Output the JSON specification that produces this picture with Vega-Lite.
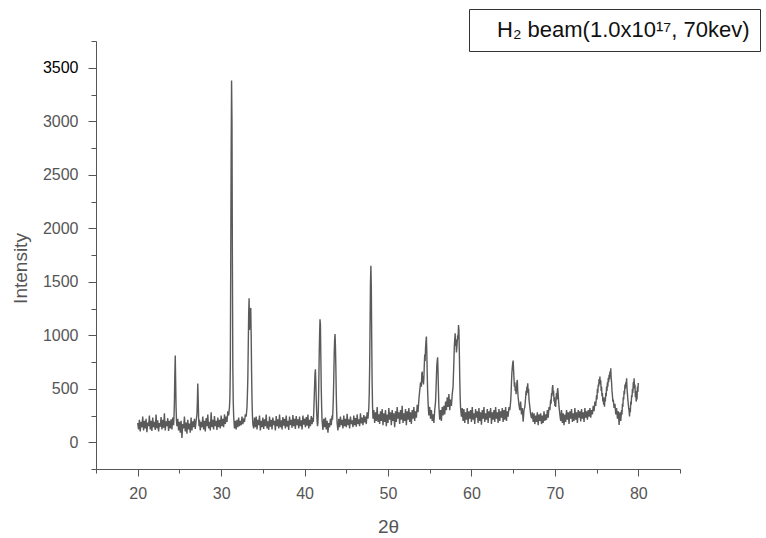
{
"$schema": "https://vega.github.io/schema/vega-lite/v6.json",
"width": 584, "height": 428,
"autosize": {"type": "none"},
"padding": {"left": 96, "top": 41, "right": 86, "bottom": 69},
"background": "white",
"config": {"view": {"stroke": null}, "font": "Liberation Sans"},
"data": {"values": [
{"x":20.0,"y":180},{"x":20.1,"y":120},{"x":20.2,"y":210},{"x":20.3,"y":100},{"x":20.4,"y":190},{"x":20.5,"y":140},{"x":20.6,"y":240},{"x":20.7,"y":110},{"x":20.8,"y":200},{"x":20.9,"y":130},
{"x":21.0,"y":220},{"x":21.1,"y":95},{"x":21.2,"y":185},{"x":21.3,"y":150},{"x":21.4,"y":250},{"x":21.5,"y":120},{"x":21.6,"y":200},{"x":21.7,"y":105},{"x":21.8,"y":230},{"x":21.9,"y":140},
{"x":22.0,"y":190},{"x":22.1,"y":115},{"x":22.2,"y":260},{"x":22.3,"y":130},{"x":22.4,"y":205},{"x":22.5,"y":100},{"x":22.6,"y":180},{"x":22.7,"y":145},{"x":22.8,"y":235},{"x":22.9,"y":120},
{"x":23.0,"y":210},{"x":23.1,"y":135},{"x":23.2,"y":270},{"x":23.3,"y":110},{"x":23.4,"y":195},{"x":23.5,"y":150},{"x":23.6,"y":225},{"x":23.7,"y":105},{"x":23.8,"y":200},{"x":23.9,"y":130},
{"x":24.0,"y":215},{"x":24.1,"y":120},{"x":24.2,"y":230},{"x":24.3,"y":160},{"x":24.35,"y":240},{"x":24.4,"y":380},{"x":24.45,"y":640},{"x":24.5,"y":810},{"x":24.55,"y":560},{"x":24.6,"y":320},{"x":24.65,"y":200},{"x":24.7,"y":150},
{"x":24.8,"y":220},{"x":24.9,"y":110},{"x":25.0,"y":190},{"x":25.1,"y":90},{"x":25.2,"y":200},{"x":25.3,"y":40},{"x":25.4,"y":170},{"x":25.5,"y":130},{"x":25.6,"y":240},{"x":25.7,"y":100},{"x":25.8,"y":185},{"x":25.9,"y":80},
{"x":26.0,"y":210},{"x":26.1,"y":120},{"x":26.2,"y":175},{"x":26.3,"y":90},{"x":26.4,"y":230},{"x":26.5,"y":110},{"x":26.6,"y":195},{"x":26.7,"y":140},{"x":26.8,"y":220},{"x":26.9,"y":125},
{"x":27.0,"y":200},{"x":27.1,"y":260},{"x":27.15,"y":380},{"x":27.2,"y":550},{"x":27.25,"y":400},{"x":27.3,"y":230},{"x":27.35,"y":150},{"x":27.4,"y":210},{"x":27.5,"y":110},{"x":27.6,"y":190},{"x":27.7,"y":140},{"x":27.8,"y":240},{"x":27.9,"y":120},
{"x":28.0,"y":200},{"x":28.1,"y":100},{"x":28.2,"y":225},{"x":28.3,"y":150},{"x":28.4,"y":260},{"x":28.5,"y":130},{"x":28.6,"y":190},{"x":28.7,"y":110},{"x":28.8,"y":280},{"x":28.9,"y":140},
{"x":29.0,"y":210},{"x":29.1,"y":120},{"x":29.2,"y":245},{"x":29.3,"y":150},{"x":29.4,"y":200},{"x":29.5,"y":115},{"x":29.6,"y":230},{"x":29.7,"y":140},{"x":29.8,"y":210},{"x":29.9,"y":130},
{"x":30.0,"y":250},{"x":30.1,"y":150},{"x":30.2,"y":220},{"x":30.3,"y":140},{"x":30.4,"y":260},{"x":30.5,"y":170},{"x":30.6,"y":240},{"x":30.7,"y":190},{"x":30.8,"y":290},{"x":30.9,"y":250},
{"x":31.0,"y":330},{"x":31.05,"y":420},{"x":31.1,"y":700},{"x":31.15,"y":1700},{"x":31.2,"y":2700},{"x":31.25,"y":3380},{"x":31.3,"y":3000},{"x":31.35,"y":1650},{"x":31.4,"y":700},{"x":31.45,"y":380},{"x":31.5,"y":250},{"x":31.55,"y":180},{"x":31.6,"y":130},{"x":31.7,"y":200},{"x":31.8,"y":120},{"x":31.9,"y":210},
{"x":32.0,"y":140},{"x":32.1,"y":230},{"x":32.2,"y":150},{"x":32.3,"y":200},{"x":32.4,"y":160},{"x":32.5,"y":240},{"x":32.6,"y":170},{"x":32.7,"y":210},{"x":32.8,"y":190},{"x":32.9,"y":260},
{"x":33.0,"y":240},{"x":33.1,"y":330},{"x":33.15,"y":450},{"x":33.2,"y":600},{"x":33.25,"y":900},{"x":33.3,"y":1200},{"x":33.35,"y":1346},{"x":33.4,"y":1050},{"x":33.45,"y":1150},{"x":33.5,"y":1230},{"x":33.55,"y":1255},{"x":33.6,"y":1000},{"x":33.65,"y":650},{"x":33.7,"y":400},{"x":33.75,"y":250},{"x":33.8,"y":170},{"x":33.9,"y":130},
{"x":34.0,"y":230},{"x":34.1,"y":140},{"x":34.2,"y":240},{"x":34.3,"y":120},{"x":34.4,"y":210},{"x":34.5,"y":160},{"x":34.6,"y":250},{"x":34.7,"y":110},{"x":34.8,"y":200},{"x":34.9,"y":140},
{"x":35.0,"y":230},{"x":35.1,"y":125},{"x":35.2,"y":215},{"x":35.3,"y":150},{"x":35.4,"y":260},{"x":35.5,"y":130},{"x":35.6,"y":195},{"x":35.7,"y":115},{"x":35.8,"y":240},{"x":35.9,"y":145},
{"x":36.0,"y":210},{"x":36.1,"y":120},{"x":36.2,"y":230},{"x":36.3,"y":160},{"x":36.4,"y":200},{"x":36.5,"y":110},{"x":36.6,"y":245},{"x":36.7,"y":150},{"x":36.8,"y":215},{"x":36.9,"y":130},
{"x":37.0,"y":260},{"x":37.1,"y":140},{"x":37.2,"y":205},{"x":37.3,"y":120},{"x":37.4,"y":235},{"x":37.5,"y":155},{"x":37.6,"y":220},{"x":37.7,"y":130},{"x":37.8,"y":250},{"x":37.9,"y":145},
{"x":38.0,"y":200},{"x":38.1,"y":115},{"x":38.2,"y":240},{"x":38.3,"y":160},{"x":38.4,"y":210},{"x":38.5,"y":135},{"x":38.6,"y":255},{"x":38.7,"y":150},{"x":38.8,"y":220},{"x":38.9,"y":125},
{"x":39.0,"y":245},{"x":39.1,"y":160},{"x":39.2,"y":215},{"x":39.3,"y":130},{"x":39.4,"y":240},{"x":39.5,"y":150},{"x":39.6,"y":205},{"x":39.7,"y":120},{"x":39.8,"y":250},{"x":39.9,"y":165},
{"x":40.0,"y":220},{"x":40.1,"y":140},{"x":40.2,"y":235},{"x":40.3,"y":155},{"x":40.4,"y":260},{"x":40.5,"y":130},{"x":40.6,"y":210},{"x":40.7,"y":150},{"x":40.8,"y":245},{"x":40.9,"y":170},
{"x":41.0,"y":230},{"x":41.05,"y":190},{"x":41.1,"y":280},{"x":41.15,"y":400},{"x":41.2,"y":520},{"x":41.25,"y":640},{"x":41.3,"y":682},{"x":41.35,"y":560},{"x":41.4,"y":400},{"x":41.45,"y":280},{"x":41.5,"y":200},{"x":41.55,"y":150},{"x":41.6,"y":180},{"x":41.65,"y":300},{"x":41.7,"y":520},{"x":41.75,"y":800},{"x":41.8,"y":1000},{"x":41.85,"y":1150},{"x":41.9,"y":1100},{"x":41.95,"y":800},{"x":42.0,"y":500},{"x":42.05,"y":320},{"x":42.1,"y":200},{"x":42.2,"y":115},{"x":42.3,"y":220},
{"x":42.4,"y":140},{"x":42.5,"y":230},{"x":42.6,"y":120},{"x":42.7,"y":200},{"x":42.8,"y":90},{"x":42.9,"y":180},{"x":43.0,"y":140},{"x":43.1,"y":220},{"x":43.2,"y":160},{"x":43.3,"y":250},{"x":43.35,"y":210},{"x":43.4,"y":300},{"x":43.45,"y":420},{"x":43.5,"y":600},{"x":43.55,"y":820},{"x":43.6,"y":950},{"x":43.65,"y":1012},{"x":43.7,"y":900},{"x":43.75,"y":700},{"x":43.8,"y":450},{"x":43.85,"y":280},{"x":43.9,"y":180},
{"x":44.0,"y":110},{"x":44.1,"y":220},{"x":44.2,"y":140},{"x":44.3,"y":240},{"x":44.4,"y":160},{"x":44.5,"y":210},{"x":44.6,"y":130},{"x":44.7,"y":250},{"x":44.8,"y":150},{"x":44.9,"y":220},
{"x":45.0,"y":140},{"x":45.1,"y":265},{"x":45.2,"y":160},{"x":45.3,"y":215},{"x":45.4,"y":130},{"x":45.5,"y":240},{"x":45.6,"y":170},{"x":45.7,"y":205},{"x":45.8,"y":140},{"x":45.9,"y":250},
{"x":46.0,"y":160},{"x":46.1,"y":225},{"x":46.2,"y":145},{"x":46.3,"y":260},{"x":46.4,"y":170},{"x":46.5,"y":215},{"x":46.6,"y":150},{"x":46.7,"y":270},{"x":46.8,"y":175},{"x":46.9,"y":230},
{"x":47.0,"y":160},{"x":47.1,"y":255},{"x":47.2,"y":185},{"x":47.3,"y":240},{"x":47.4,"y":170},{"x":47.5,"y":280},{"x":47.6,"y":220},{"x":47.7,"y":320},{"x":47.75,"y":450},{"x":47.8,"y":700},{"x":47.85,"y":1100},{"x":47.9,"y":1500},{"x":47.95,"y":1650},{"x":48.0,"y":1450},{"x":48.05,"y":950},{"x":48.1,"y":550},{"x":48.15,"y":330},{"x":48.2,"y":220},{"x":48.3,"y":300},{"x":48.4,"y":180},{"x":48.5,"y":280},{"x":48.6,"y":200},{"x":48.7,"y":330},{"x":48.8,"y":190},{"x":48.9,"y":260},
{"x":49.0,"y":170},{"x":49.1,"y":290},{"x":49.2,"y":200},{"x":49.3,"y":310},{"x":49.4,"y":160},{"x":49.5,"y":270},{"x":49.6,"y":190},{"x":49.7,"y":300},{"x":49.8,"y":150},{"x":49.9,"y":260},
{"x":50.0,"y":180},{"x":50.1,"y":320},{"x":50.2,"y":210},{"x":50.3,"y":280},{"x":50.4,"y":160},{"x":50.5,"y":300},{"x":50.6,"y":200},{"x":50.7,"y":270},{"x":50.8,"y":140},{"x":50.9,"y":290},
{"x":51.0,"y":190},{"x":51.1,"y":330},{"x":51.2,"y":220},{"x":51.3,"y":280},{"x":51.4,"y":170},{"x":51.5,"y":300},{"x":51.6,"y":210},{"x":51.7,"y":340},{"x":51.8,"y":180},{"x":51.9,"y":270},
{"x":52.0,"y":200},{"x":52.1,"y":310},{"x":52.2,"y":160},{"x":52.3,"y":290},{"x":52.4,"y":210},{"x":52.5,"y":320},{"x":52.6,"y":190},{"x":52.7,"y":280},{"x":52.8,"y":170},{"x":52.9,"y":300},
{"x":53.0,"y":220},{"x":53.1,"y":330},{"x":53.2,"y":200},{"x":53.3,"y":290},{"x":53.4,"y":230},{"x":53.5,"y":350},{"x":53.6,"y":280},{"x":53.7,"y":400},{"x":53.8,"y":480},{"x":53.9,"y":560},
{"x":54.0,"y":520},{"x":54.05,"y":640},{"x":54.1,"y":660},{"x":54.15,"y":560},{"x":54.2,"y":620},{"x":54.25,"y":540},{"x":54.3,"y":600},{"x":54.35,"y":720},{"x":54.4,"y":820},{"x":54.45,"y":760},{"x":54.5,"y":880},{"x":54.55,"y":940},{"x":54.6,"y":987},{"x":54.65,"y":850},{"x":54.7,"y":650},{"x":54.75,"y":480},{"x":54.8,"y":380},{"x":54.85,"y":300},{"x":54.9,"y":250},
{"x":55.0,"y":330},{"x":55.1,"y":220},{"x":55.2,"y":300},{"x":55.3,"y":200},{"x":55.4,"y":260},{"x":55.5,"y":180},{"x":55.6,"y":300},{"x":55.7,"y":380},{"x":55.75,"y":480},{"x":55.8,"y":600},{"x":55.85,"y":720},{"x":55.9,"y":760},{"x":55.95,"y":794},{"x":56.0,"y":650},{"x":56.05,"y":480},{"x":56.1,"y":330},{"x":56.2,"y":210},{"x":56.3,"y":300},{"x":56.4,"y":200},{"x":56.5,"y":330},{"x":56.6,"y":250},{"x":56.7,"y":340},{"x":56.8,"y":260},{"x":56.9,"y":380},
{"x":57.0,"y":300},{"x":57.1,"y":420},{"x":57.2,"y":330},{"x":57.3,"y":450},{"x":57.4,"y":300},{"x":57.5,"y":400},{"x":57.6,"y":340},{"x":57.7,"y":450},{"x":57.8,"y":520},{"x":57.85,"y":640},{"x":57.9,"y":760},{"x":57.95,"y":900},{"x":58.0,"y":960},{"x":58.05,"y":1019},{"x":58.1,"y":900},{"x":58.15,"y":960},{"x":58.2,"y":840},{"x":58.25,"y":880},{"x":58.3,"y":940},{"x":58.35,"y":1000},{"x":58.4,"y":960},{"x":58.45,"y":1096},{"x":58.5,"y":1050},{"x":58.55,"y":850},{"x":58.6,"y":600},{"x":58.65,"y":420},{"x":58.7,"y":320},{"x":58.8,"y":240},{"x":58.9,"y":320},
{"x":59.0,"y":200},{"x":59.1,"y":310},{"x":59.2,"y":180},{"x":59.3,"y":280},{"x":59.4,"y":210},{"x":59.5,"y":320},{"x":59.6,"y":170},{"x":59.7,"y":290},{"x":59.8,"y":220},{"x":59.9,"y":300},
{"x":60.0,"y":190},{"x":60.1,"y":330},{"x":60.2,"y":210},{"x":60.3,"y":270},{"x":60.4,"y":170},{"x":60.5,"y":310},{"x":60.6,"y":230},{"x":60.7,"y":290},{"x":60.8,"y":180},{"x":60.9,"y":320},
{"x":61.0,"y":200},{"x":61.1,"y":280},{"x":61.2,"y":165},{"x":61.3,"y":300},{"x":61.4,"y":220},{"x":61.5,"y":330},{"x":61.6,"y":190},{"x":61.7,"y":270},{"x":61.8,"y":210},{"x":61.9,"y":310},
{"x":62.0,"y":180},{"x":62.1,"y":290},{"x":62.2,"y":230},{"x":62.3,"y":320},{"x":62.4,"y":170},{"x":62.5,"y":280},{"x":62.6,"y":210},{"x":62.7,"y":300},{"x":62.8,"y":190},{"x":62.9,"y":330},
{"x":63.0,"y":220},{"x":63.1,"y":280},{"x":63.2,"y":180},{"x":63.3,"y":310},{"x":63.4,"y":200},{"x":63.5,"y":290},{"x":63.6,"y":230},{"x":63.7,"y":320},{"x":63.8,"y":190},{"x":63.9,"y":300},
{"x":64.0,"y":210},{"x":64.1,"y":330},{"x":64.2,"y":200},{"x":64.3,"y":290},{"x":64.4,"y":240},{"x":64.5,"y":330},{"x":64.6,"y":300},{"x":64.7,"y":380},{"x":64.75,"y":450},{"x":64.8,"y":560},{"x":64.85,"y":650},{"x":64.9,"y":700},{"x":64.95,"y":740},{"x":65.0,"y":763},{"x":65.05,"y":680},{"x":65.1,"y":600},{"x":65.15,"y":520},{"x":65.2,"y":560},{"x":65.25,"y":480},{"x":65.3,"y":520},{"x":65.35,"y":450},{"x":65.4,"y":500},{"x":65.45,"y":560},{"x":65.5,"y":582},{"x":65.55,"y":480},{"x":65.6,"y":420},{"x":65.7,"y":350},{"x":65.8,"y":300},{"x":65.9,"y":380},
{"x":66.0,"y":260},{"x":66.1,"y":320},{"x":66.2,"y":193},{"x":66.3,"y":300},{"x":66.4,"y":330},{"x":66.5,"y":420},{"x":66.55,"y":480},{"x":66.6,"y":440},{"x":66.65,"y":520},{"x":66.7,"y":500},{"x":66.75,"y":551},{"x":66.8,"y":460},{"x":66.85,"y":500},{"x":66.9,"y":400},{"x":67.0,"y":330},{"x":67.1,"y":260},{"x":67.2,"y":224},{"x":67.3,"y":280},
{"x":67.4,"y":190},{"x":67.5,"y":270},{"x":67.6,"y":170},{"x":67.7,"y":250},{"x":67.8,"y":190},{"x":67.9,"y":280},{"x":68.0,"y":160},{"x":68.1,"y":260},{"x":68.2,"y":200},{"x":68.3,"y":270},{"x":68.4,"y":170},{"x":68.5,"y":250},{"x":68.6,"y":180},{"x":68.7,"y":290},{"x":68.8,"y":200},{"x":68.9,"y":260},
{"x":69.0,"y":210},{"x":69.1,"y":300},{"x":69.2,"y":230},{"x":69.3,"y":330},{"x":69.4,"y":300},{"x":69.5,"y":400},{"x":69.55,"y":360},{"x":69.6,"y":460},{"x":69.65,"y":430},{"x":69.7,"y":510},{"x":69.75,"y":535},{"x":69.8,"y":450},{"x":69.85,"y":480},{"x":69.9,"y":380},{"x":69.95,"y":420},
{"x":70.0,"y":340},{"x":70.05,"y":380},{"x":70.1,"y":330},{"x":70.15,"y":420},{"x":70.2,"y":460},{"x":70.25,"y":400},{"x":70.3,"y":480},{"x":70.35,"y":505},{"x":70.4,"y":450},{"x":70.45,"y":380},{"x":70.5,"y":330},{"x":70.6,"y":260},{"x":70.7,"y":200},{"x":70.8,"y":300},{"x":70.9,"y":180},
{"x":71.0,"y":270},{"x":71.1,"y":160},{"x":71.2,"y":260},{"x":71.3,"y":190},{"x":71.4,"y":300},{"x":71.5,"y":210},{"x":71.6,"y":280},{"x":71.7,"y":170},{"x":71.8,"y":290},{"x":71.9,"y":220},
{"x":72.0,"y":310},{"x":72.1,"y":190},{"x":72.2,"y":270},{"x":72.3,"y":200},{"x":72.4,"y":320},{"x":72.5,"y":210},{"x":72.6,"y":280},{"x":72.7,"y":180},{"x":72.8,"y":300},{"x":72.9,"y":230},
{"x":73.0,"y":290},{"x":73.1,"y":195},{"x":73.2,"y":310},{"x":73.3,"y":220},{"x":73.4,"y":280},{"x":73.5,"y":190},{"x":73.6,"y":320},{"x":73.7,"y":230},{"x":73.8,"y":290},{"x":73.9,"y":210},
{"x":74.0,"y":300},{"x":74.1,"y":240},{"x":74.2,"y":320},{"x":74.3,"y":230},{"x":74.4,"y":300},{"x":74.5,"y":260},{"x":74.6,"y":340},{"x":74.7,"y":290},{"x":74.8,"y":380},{"x":74.9,"y":340},
{"x":75.0,"y":440},{"x":75.05,"y":400},{"x":75.1,"y":500},{"x":75.15,"y":460},{"x":75.2,"y":540},{"x":75.25,"y":520},{"x":75.3,"y":590},{"x":75.35,"y":560},{"x":75.4,"y":613},{"x":75.45,"y":540},{"x":75.5,"y":580},{"x":75.55,"y":480},{"x":75.6,"y":520},{"x":75.65,"y":430},{"x":75.7,"y":460},{"x":75.75,"y":380},{"x":75.8,"y":420},{"x":75.85,"y":350},{"x":75.9,"y":400},{"x":75.95,"y":333},
{"x":76.0,"y":420},{"x":76.05,"y":380},{"x":76.1,"y":460},{"x":76.15,"y":430},{"x":76.2,"y":520},{"x":76.25,"y":480},{"x":76.3,"y":560},{"x":76.35,"y":520},{"x":76.4,"y":600},{"x":76.45,"y":560},{"x":76.5,"y":630},{"x":76.55,"y":590},{"x":76.6,"y":660},{"x":76.65,"y":620},{"x":76.7,"y":692},{"x":76.75,"y":600},{"x":76.8,"y":560},{"x":76.85,"y":480},{"x":76.9,"y":440},{"x":76.95,"y":380},
{"x":77.0,"y":400},{"x":77.1,"y":320},{"x":77.2,"y":360},{"x":77.3,"y":260},{"x":77.4,"y":320},{"x":77.5,"y":220},{"x":77.6,"y":290},{"x":77.7,"y":162},{"x":77.8,"y":280},{"x":77.9,"y":200},
{"x":78.0,"y":300},{"x":78.05,"y":260},{"x":78.1,"y":360},{"x":78.15,"y":330},{"x":78.2,"y":420},{"x":78.25,"y":400},{"x":78.3,"y":480},{"x":78.35,"y":450},{"x":78.4,"y":540},{"x":78.45,"y":500},{"x":78.5,"y":560},{"x":78.55,"y":520},{"x":78.6,"y":598},{"x":78.65,"y":500},{"x":78.7,"y":450},{"x":78.75,"y":400},{"x":78.8,"y":360},{"x":78.85,"y":320},{"x":78.9,"y":290},{"x":78.95,"y":240},
{"x":79.0,"y":320},{"x":79.05,"y":280},{"x":79.1,"y":380},{"x":79.15,"y":350},{"x":79.2,"y":440},{"x":79.25,"y":420},{"x":79.3,"y":500},{"x":79.35,"y":460},{"x":79.4,"y":560},{"x":79.45,"y":520},{"x":79.5,"y":598},{"x":79.55,"y":500},{"x":79.6,"y":540},{"x":79.65,"y":420},{"x":79.7,"y":480},{"x":79.75,"y":380},{"x":79.8,"y":450},{"x":79.85,"y":400},{"x":79.9,"y":520},{"x":79.95,"y":470},{"x":80.0,"y":554}
]},
"mark": {"type": "line", "strokeWidth": 1.4},
"encoding": {
  "x": {"field": "x", "type": "quantitative",
    "scale": {"domain": [15, 85], "nice": false, "zero": false},
    "axis": {"title": "2θ", "values": [15,20,25,30,35,40,45,50,55,60,65,70,75,80,85], "format": "d",
      "labelExpr": "datum.value % 10 === 0 ? datum.label : ''",
      "tickSize": {"condition": {"test": "datum.value % 10 === 0", "value": 7}, "value": 4},
      "grid": false, "domainColor": "#555", "tickColor": "#555", "labelColor": "#555",
      "labelFontSize": 16, "labelPadding": 9, "labelFlush": false, "labelOverlap": false,
      "titleFontSize": 19, "titleFontWeight": "normal", "titleColor": "#555",
      "titleY": 57, "titleBaseline": "middle"}},
  "y": {"field": "y", "type": "quantitative",
    "scale": {"domain": [-250, 3750], "nice": false, "zero": false},
    "axis": {"title": "Intensity", "values": [-250,0,250,500,750,1000,1250,1500,1750,2000,2250,2500,2750,3000,3250,3500,3750], "format": "d",
      "labelExpr": "datum.value >= 0 && datum.value <= 3500 && datum.value % 500 === 0 ? datum.label : ''",
      "tickSize": {"condition": {"test": "datum.value % 500 === 0", "value": 8}, "value": 5},
      "grid": false, "domainColor": "#555", "tickColor": "#555",
      "labelColor": {"condition": {"test": "datum.value === 3500", "value": "#000"}, "value": "#555"},
      "labelFontSize": 16, "labelPadding": 10, "labelOverlap": false,
      "titleFontSize": 19, "titleFontWeight": "normal", "titleColor": "#555",
      "titleX": -76, "titleY": 227, "titleBaseline": "middle"}},
  "color": {"datum": "H₂ beam(1.0x10¹⁷, 70kev)", "type": "nominal",
    "scale": {"range": ["#5a5a5a"]},
    "legend": {"orient": "none", "legendX": 373, "legendY": -32, "title": null,
      "strokeColor": "#333", "fillColor": "white", "padding": 10,
      "labelFontSize": 22, "labelColor": "#111", "labelFont": "Liberation Sans", "labelLimit": 500,
      "symbolSize": 0, "symbolOpacity": 0, "symbolStrokeWidth": 0, "labelOffset": -4}}
}
}
